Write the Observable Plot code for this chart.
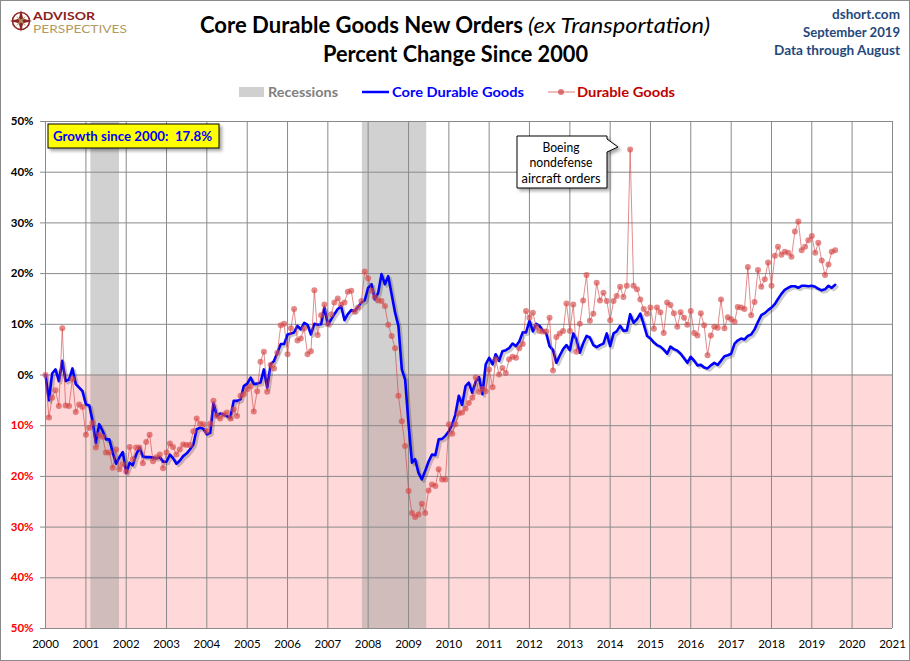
<!DOCTYPE html>
<html><head><meta charset="utf-8">
<script src="https://cdn.jsdelivr.net/npm/d3@7"></script>
<script src="https://cdn.jsdelivr.net/npm/@observablehq/plot@0.6"></script>
<style>
body{margin:0;background:#fff;font-family:Lato,"Open Sans",sans-serif;}
#wrap{position:relative;width:910px;height:661px;overflow:hidden;background:#fff;}
#header{position:absolute;left:0;top:0;}
#chart{position:absolute;left:0;top:110px;}
#notes{position:absolute;left:0;top:0;pointer-events:none;}
#border{position:absolute;left:0;top:0;width:908px;height:659px;border:1px solid #8a8a8a;pointer-events:none;}
</style></head>
<body><div id="wrap">
<svg id="header" width="910" height="110" font-family="Lato, sans-serif">
  <g transform="translate(21,21)">
    <circle r="8.5" fill="none" stroke="#8B2525" stroke-width="1.6"/>
    <path d="M0,-11 L2.2,-2.2 L11,0 L2.2,2.2 L0,11 L-2.2,2.2 L-11,0 L-2.2,-2.2 Z" fill="#8B2525"/>
    <path d="M-5,-5 L0,-1.5 L5,-5 L1.5,0 L5,5 L0,1.5 L-5,5 L-1.5,0 Z" fill="#B08B5A"/>
  </g>
  <text x="33" y="19.5" font-size="11" font-weight="bold" fill="#8B1E1E" textLength="62" lengthAdjust="spacingAndGlyphs">ADVISOR</text>
  <text x="33" y="32.5" font-size="11.5" fill="#B49A5E" textLength="94" lengthAdjust="spacingAndGlyphs">PERSPECTIVES</text>
  <text x="200" y="33" font-size="22" font-weight="bold" fill="#000" textLength="323" lengthAdjust="spacingAndGlyphs">Core Durable Goods New Orders</text>
  <text x="528" y="33" font-size="22" font-style="italic" fill="#000" textLength="182" lengthAdjust="spacingAndGlyphs">(ex Transportation)</text>
  <text x="323" y="62" font-size="22" font-weight="bold" fill="#000" textLength="265" lengthAdjust="spacingAndGlyphs">Percent Change Since 2000</text>
  <text x="900" y="19" font-size="13.5" font-weight="bold" fill="#1F497D" text-anchor="end" textLength="68" lengthAdjust="spacingAndGlyphs">dshort.com</text>
  <text x="900" y="37" font-size="13.5" font-weight="bold" fill="#1F497D" text-anchor="end" textLength="97" lengthAdjust="spacingAndGlyphs">September 2019</text>
  <text x="900" y="55" font-size="13.5" font-weight="bold" fill="#1F497D" text-anchor="end" textLength="126" lengthAdjust="spacingAndGlyphs">Data through August</text>
  <rect x="239" y="87" width="25" height="10" fill="#D0D0D0"/>
  <text x="268" y="97" font-size="14" font-weight="bold" fill="#808080" textLength="70" lengthAdjust="spacingAndGlyphs">Recessions</text>
  <line x1="362" x2="389" y1="92" y2="92" stroke="#0000FF" stroke-width="2.5"/>
  <text x="392" y="97" font-size="14" font-weight="bold" fill="#0000FF" textLength="132" lengthAdjust="spacingAndGlyphs">Core Durable Goods</text>
  <line x1="548" x2="575" y1="92" y2="92" stroke="#D04040" stroke-opacity="0.7" stroke-width="1"/>
  <circle cx="561" cy="92" r="3" fill="#D64848" fill-opacity="0.75"/>
  <text x="577" y="97" font-size="14" font-weight="bold" fill="#C00000" textLength="98" lengthAdjust="spacingAndGlyphs">Durable Goods</text>
</svg>
<div id="chart"></div>
<svg id="notes" width="910" height="661" font-family="Lato, sans-serif">
  <defs><filter id="sh" x="-10%" y="-10%" width="130%" height="140%"><feDropShadow dx="2.5" dy="2.5" stdDeviation="1.5" flood-color="#000" flood-opacity="0.35"/></filter></defs>
  <rect x="48" y="124" width="171" height="24" fill="#FFFF00" stroke="#000" stroke-width="1" filter="url(#sh)"/>
  <text x="53" y="141" font-size="13" font-weight="bold" fill="#0000FF" textLength="159" lengthAdjust="spacingAndGlyphs" xml:space="preserve">Growth since 2000:  17.8%</text>
  <path d="M517,136 L607,136 L607,139 L618,147 L607,152 L607,188 L517,188 Z" fill="#fff" stroke="#000" stroke-width="1" filter="url(#sh)"/>
  <text x="561" y="152" font-size="12.5" fill="#000" text-anchor="middle" textLength="37" lengthAdjust="spacingAndGlyphs">Boeing</text>
  <text x="561" y="167" font-size="12.5" fill="#000" text-anchor="middle" textLength="63" lengthAdjust="spacingAndGlyphs">nondefense</text>
  <text x="561" y="183" font-size="12.5" fill="#000" text-anchor="middle" textLength="79" lengthAdjust="spacingAndGlyphs">aircraft orders</text>
</svg>
<div id="border"></div>
</div>
<script>
// Monthly values, Jan 2000 – Aug 2019 (percent change since Jan 2000)
const startYear = 2000;
const coreGoods = [
  0, -5.0, 0.3, 1.1, -1.2, 2.8, -1.2, -0.9, 1.3, -1.8, -2.5, -3.2,
  -5.8, -6.0, -9.0, -13.4, -9.7, -11.0, -12.7, -12.7, -15.3, -17.5, -16.2, -15.2,
  -19.3, -17.3, -17.8, -15.7, -14.3, -16.1, -16.2, -16.2, -16.3, -16.4, -16.2, -17.1,
  -17.1, -15.7, -16.4, -17.5, -16.9, -16.0, -15.5, -14.7, -13.7, -10.7, -10.4, -10.6,
  -11.7, -11.4, -5.5, -8.1, -7.6, -7.8, -8.1, -8.4, -5.1, -5.1, -4.8, -2.2,
  -1.7, -0.5, -1.8, -1.7, -1.5, 1.1, -2.5, 2.1, 2.8, 4.4, 6.1, 6.1,
  8.0, 8.2, 8.4, 9.7, 9.0, 10.3, 9.9, 8.0, 10.1, 9.9, 10.0, 13.3,
  9.9, 11.0, 12.0, 13.0, 13.6, 10.8, 12.0, 12.8, 12.6, 13.4, 14.3, 14.7,
  17.2, 17.9, 14.9, 16.2, 19.9, 17.9, 19.5, 15.9, 12.3, 9.7, 1.1, -0.9,
  -9.7, -17.3, -16.6, -19.3, -20.6, -18.9, -17.1, -15.7, -15.8, -12.7, -12.6, -12.0,
  -11.1, -9.7, -7.8, -4.1, -5.9, -2.2, -1.5, -3.5, -1.3, -0.4, -3.8, 2.1,
  3.4, 2.1, 4.1, 2.8, 4.7, 4.9, 5.3, 6.2, 5.7, 6.6, 8.4, 8.4,
  10.7, 8.6, 10.1, 9.7, 8.7, 8.2, 5.7, 4.9, 2.4, 3.8, 5.1, 5.9,
  4.9, 8.2, 7.0, 4.4, 6.2, 7.7, 7.4, 5.9, 5.5, 5.9, 6.2, 8.2,
  5.7, 8.2, 8.6, 9.7, 8.7, 8.8, 12.0, 10.3, 11.0, 12.1, 10.0, 7.7,
  7.2, 6.4, 5.9, 5.6, 5.0, 4.2, 5.6, 5.1, 4.8, 4.2, 3.3, 2.4,
  3.6, 2.8, 1.9, 2.0, 1.5, 1.3, 1.9, 2.4, 2.0, 2.8, 3.7, 3.9,
  4.2, 6.2, 6.8, 7.2, 7.0, 7.7, 8.0, 9.0, 10.5, 11.8, 12.2, 12.8,
  13.3, 14.0, 15.0, 16.0, 16.8, 17.2, 17.5, 17.5, 17.2, 17.6, 17.6, 17.5,
  17.6, 17.4, 17.0, 16.7, 16.9, 17.6, 17.2, 17.8
];
const durableGoods = [
  0, -8.4, -4.5, -3.0, -6.1, 9.2, -6.0, -6.1, -0.8, -7.3, -5.8, -6.3,
  -11.8, -10.4, -9.4, -14.3, -11.8, -12.2, -15.3, -15.3, -18.3, -14.7, -18.6, -17.6,
  -19.1, -14.2, -16.6, -14.3, -14.3, -17.4, -13.2, -11.8, -17.0, -16.2, -15.7, -18.4,
  -15.3, -13.5, -14.2, -15.7, -14.7, -13.7, -13.8, -13.8, -11.1, -8.6, -9.6, -9.7,
  -11.1, -9.6, -5.1, -8.1, -8.6, -7.8, -7.4, -8.6, -6.8, -8.1, -4.1, -3.8,
  -2.8, -2.2, -7.2, -3.2, 2.6, 4.6, -3.3, 2.0, 1.3, 4.4, 9.8, 10.1,
  4.1, 9.2, 13.0, 6.8, 7.2, 9.2, 4.1, 4.7, 16.7, 7.9, 11.8, 13.9,
  10.0, 12.0, 14.3, 15.1, 13.9, 14.3, 16.4, 16.6, 12.5, 13.3, 14.6, 20.4,
  19.1, 16.6, 15.4, 14.7, 14.6, 13.6, 9.9, 7.7, 5.3, -4.1, -9.1, -14.0,
  -22.9, -27.2, -28.0, -27.5, -25.4, -27.2, -22.8, -21.6, -21.9, -18.6, -20.6, -20.6,
  -9.7, -11.6, -9.7, -7.6, -7.4, -6.6, -5.5, -4.5, -0.5, -3.3, -2.7, -3.2,
  1.1, -2.4, 3.1, 0.1, 1.4, 0.4, 3.1, 3.6, 3.4, 5.3, 6.1, 12.6,
  11.3, 12.3, 9.5, 8.7, 8.6, 8.6, 11.3, 0.9, 7.5, 8.2, 8.7, 14.1,
  8.7, 13.9, 4.6, 10.1, 14.7, 19.7, 10.7, 12.1, 18.2, 14.7, 16.2, 14.6,
  10.8, 14.6, 15.6, 17.4, 15.4, 17.6, 44.5, 17.6, 16.9, 14.9, 13.0, 12.1,
  13.3, 9.1, 13.3, 12.4, 8.3, 14.3, 13.8, 12.2, 9.5, 12.4, 11.3, 9.9,
  12.6, 8.3, 7.8, 12.2, 9.8, 3.9, 7.8, 9.5, 9.3, 14.9, 9.2, 11.4,
  11.0, 10.5, 13.4, 13.3, 13.0, 21.3, 11.8, 14.4, 20.7, 17.4, 18.9, 22.2,
  17.6, 23.5, 25.3, 23.7, 24.3, 24.1, 23.3, 28.3, 30.3, 24.6, 25.3, 26.6,
  27.4, 24.1, 26.1, 22.6, 19.7, 21.8, 24.3, 24.6
];
const yearTicks = [2000,2001,2002,2003,2004,2005,2006,2007,2008,2009,2010,2011,2012,2013,2014,2015,2016,2017,2018,2019,2020,2021];
const yTicksPos = [0, 10, 20, 30, 40, 50];
const yTicksNeg = [-10, -20, -30, -40, -50];
const recessions = [
  {start: "2001-02-15", end: "2001-11-01"},
  {start: "2007-11-10", end: "2009-06-15"}
];

const parse = s => new Date(s + "T00:00:00Z");
const monthDate = i => new Date(Date.UTC(startYear, i, 1));
const core = coreGoods.map((v, i) => ({date: monthDate(i), value: v}));
const durable = durableGoods.map((v, i) => ({date: monthDate(i), value: v}));
const yearDates = yearTicks.map(y => new Date(Date.UTC(y, 0, 1)));
const xDomain = [yearDates[0], yearDates[yearDates.length - 1]];
const yMin = yTicksNeg[yTicksNeg.length - 1], yMax = yTicksPos[yTicksPos.length - 1];
const negZone = [{x1: xDomain[0], x2: xDomain[1], y1: yMin, y2: 0}];
const recData = recessions.map(r => ({start: parse(r.start), end: parse(r.end)}));
const gridCol = "#8a8a8a";

const chart = Plot.plot({
  width: 910, height: 551,
  marginLeft: 45, marginRight: 18, marginTop: 11, marginBottom: 33,
  x: {type: "utc", domain: xDomain, axis: null},
  y: {domain: [yMin, yMax], axis: null},
  style: {fontFamily: "Lato, sans-serif", background: "transparent", overflow: "visible"},
  marks: [
    Plot.rect(negZone, {x1: "x1", x2: "x2", y1: "y1", y2: "y2", fill: "#FFD9D9"}),
    Plot.rect(recData, {x1: "start", x2: "end", fill: "#9a9a9a", fillOpacity: 0.45}),
    Plot.gridX(yearDates, {stroke: gridCol, strokeOpacity: 1, strokeWidth: 1}),
    Plot.gridY([...yTicksNeg, ...yTicksPos], {stroke: gridCol, strokeOpacity: 1, strokeWidth: 1}),
    Plot.axisY([...yTicksNeg, ...yTicksPos], {tickSize: 5, tickFormat: () => "", stroke: gridCol}),
    Plot.axisY(yTicksPos, {tickSize: 0, tickPadding: 12, tickFormat: d => d + "%", fill: "#000", fontWeight: "bold", fontSize: 11.5}),
    Plot.axisY(yTicksNeg, {tickSize: 0, tickPadding: 12, tickFormat: d => Math.abs(d) + "%", fill: "#FF0000", fontWeight: "bold", fontSize: 11.5}),
    Plot.axisX(yearDates, {tickSize: 0, tickPadding: 11, tickFormat: d => String(d.getUTCFullYear()), fill: "#000", fontSize: 11.5}),
    Plot.lineY(core, {x: "date", y: "value", stroke: "#000", strokeOpacity: 0.2, strokeWidth: 3, dx: 2, dy: 2}),
    Plot.lineY(core, {x: "date", y: "value", stroke: "#0000FF", strokeWidth: 2.6}),
    Plot.lineY(durable, {x: "date", y: "value", stroke: "#D04040", strokeOpacity: 0.6, strokeWidth: 1}),
    Plot.dot(durable, {x: "date", y: "value", r: 3, fill: "#D64848", fillOpacity: 0.65})
  ]
});
document.getElementById("chart").appendChild(chart);
</script>
</body></html>
